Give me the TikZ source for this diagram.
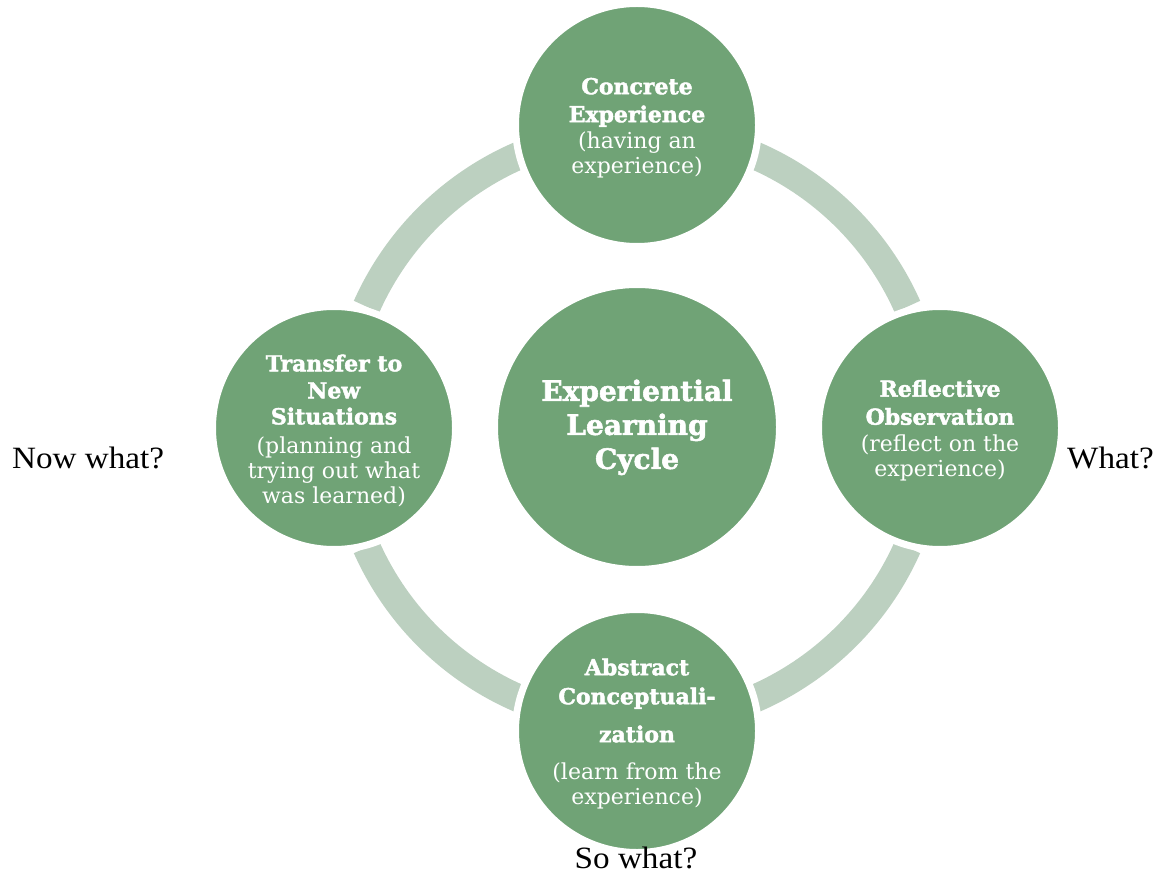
\documentclass[tikz,border=0pt]{standalone}
\usepackage{fontspec}
\setmainfont{Liberation Serif}
\newfontfamily\slab[BoldFeatures={FakeBold=2}]{DejaVu Serif}
\newfontfamily\qfont[FakeStretch=1.07]{Liberation Serif}
\newcommand{\topstrut}{\rule{0pt}{22pt}}
\definecolor{cgreen}{HTML}{70A376}
\definecolor{carc}{HTML}{BCD0C0}
\tikzset{
  stage/.style={circle, fill=cgreen, draw=white, line width=7pt, minimum size=243pt,
    inner sep=0pt, text=white, align=center, font=\slab\fontsize{22}{25}\selectfont},
  hub/.style={circle, fill=cgreen, draw=white, line width=7pt, minimum size=285pt,
    inner sep=0pt, text=white, align=center, font=\slab\bfseries\fontsize{28}{34}\selectfont},
  band/.style={draw=carc, line width=28pt},
  question/.style={inner sep=0pt, font=\qfont\fontsize{31}{36}\selectfont}
}
\begin{document}
\begin{tikzpicture}[x=1pt,y=-1pt]
\useasboundingbox (0,0) rectangle (1156,882);
\coordinate (c) at (637,427);
% bands
\draw[band] (c) ++(-24:296) arc[start angle=-24, end angle=-80, radius=296];
\draw[band] (c) ++(-156:296) arc[start angle=-156, end angle=-100, radius=296];
\draw[band] (c) ++(-204:296) arc[start angle=-204, end angle=-260, radius=296];
\draw[band] (c) ++(-336:296) arc[start angle=-336, end angle=-280, radius=296];
% circles
\node[hub] (elc) at (c) {\topstrut Experiential\\Learning\\Cycle};
\node[stage] (ce) at (637,125) {\topstrut\textbf{Concrete}\\[3pt]\textbf{Experience}\\[1pt](having an\\experience)};
\node[stage] (ro) at (940,428) {\topstrut\textbf{Reflective}\\[3pt]\textbf{Observation}\\[2pt](reflect on the\\experience)};
\node[stage] (ac) at (637,731) {\topstrut\textbf{Abstract}\\[4pt]\textbf{Conceptuali-}\\[13pt]\textbf{zation}\\[12pt](learn from the\\experience)};
\node[stage] (tn) at (334,428) {\topstrut\textbf{Transfer to}\\[2pt]\textbf{New}\\[1pt]\textbf{Situations}\\[4pt](planning and\\trying out what\\was learned)};
% questions
\node[question, anchor=base west] (q1) at (12,468) {Now what?};
\node[question, anchor=base west] (q2) at (1067,468) {What?};
\node[question, anchor=base] (q3) at (636,868) {So what?};
\end{tikzpicture}
\end{document}
